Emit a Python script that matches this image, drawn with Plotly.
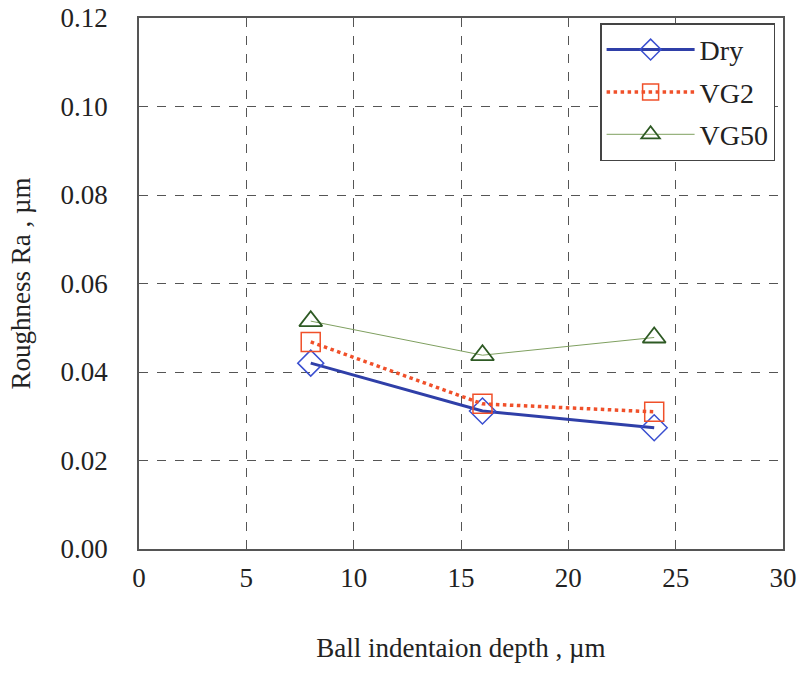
import plotly.graph_objects as go

depth = [8, 16, 24]
dry = [0.0420, 0.0312, 0.0274]
vg2 = [0.0468, 0.0328, 0.0310]
vg50 = [0.0515, 0.0438, 0.0478]

font = "Liberation Serif"
fig = go.Figure()
fig.add_trace(go.Scatter(x=depth, y=dry, name="Dry", mode="lines+markers", legendgroup="a",
    line=dict(color="#2f3fa8", width=3),
    marker=dict(symbol="diamond-open", size=20, color="#3a4fd0", line=dict(width=1.5))))
fig.add_trace(go.Scatter(x=depth, y=vg2, name="VG2", mode="lines+markers", legendgroup="b",
    line=dict(color="#f0502a", width=3.5, dash="dot"),
    marker=dict(symbol="square-open", size=19, color="#f0502a", line=dict(width=1.5))))
fig.add_trace(go.Scatter(x=depth, y=vg50, name="VG50", mode="lines+markers", legendgroup="c",
    line=dict(color="#7fa060", width=1),
    marker=dict(symbol="triangle-up-open", size=20, color="#2e5a24", line=dict(width=1.8))))

fig.update_layout(
    width=799, height=676, paper_bgcolor="white", plot_bgcolor="white",
    margin=dict(l=139, r=16, t=18, b=127),
    font=dict(family=font, size=27, color="#222"),
    legend=dict(x=0.716, y=0.99, xanchor="left", yanchor="top",
                bgcolor="white", bordercolor="#444", borderwidth=1.5,
                font=dict(size=28, family=font, color="#222"),
                itemwidth=88, tracegroupgap=3),
    showlegend=True,
)
fig.update_xaxes(range=[0, 30], tickvals=[0, 5, 10, 15, 20, 25, 30],
    tickfont=dict(family=font, size=27, color="#222"),
    showgrid=True, gridcolor="#555", griddash="dash", gridwidth=1,
    showline=True, linecolor="#555", linewidth=1.5, mirror=True, zeroline=False,
    ticks="", ticklabelstandoff=4, automargin=False,
    title=dict(text="Ball indentaion depth , µm", font=dict(size=27, family=font, color="#222"), standoff=46))
fig.update_yaxes(range=[0, 0.12], tickvals=[0, 0.02, 0.04, 0.06, 0.08, 0.10, 0.12],
    tickformat=".2f", tickfont=dict(family=font, size=27, color="#222"),
    showgrid=True, gridcolor="#555", griddash="dash", gridwidth=1,
    showline=True, linecolor="#555", linewidth=1.5, mirror=True, zeroline=False,
    ticks="", ticklabelstandoff=24, automargin=False,
    title=dict(text="Roughness Ra , µm", font=dict(size=27, family=font, color="#222"), standoff=22))

fig.write_html("out.html")
